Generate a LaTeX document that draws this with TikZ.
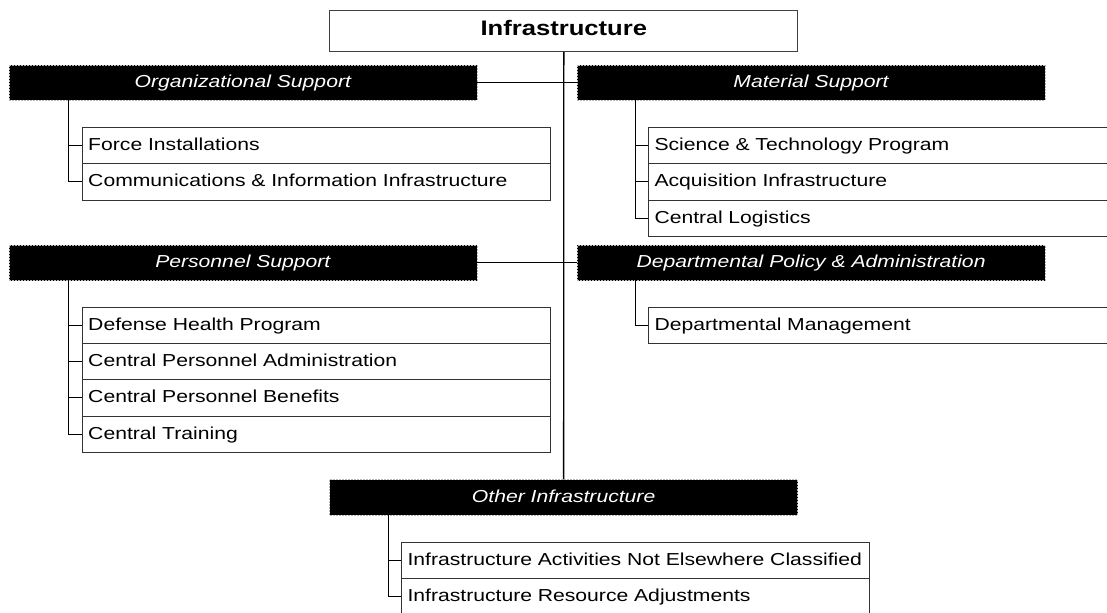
\documentclass[tikz,border=0pt]{standalone}
\usepackage{fontspec}
\setmainfont{Liberation Sans}[FakeStretch=1.22]
\begin{document}
\begin{tikzpicture}[x=0.75pt,y=-0.75pt,
  every node/.style={font=\fontsize{13pt}{15pt}\selectfont},
  topbox/.style={draw=black!75, fill=white, line width=0.8pt, minimum width=351pt, minimum height=30.75pt, inner sep=0pt, text height=0.72em, text depth=0pt, anchor=north west, font=\fontsize{15.75pt}{18pt}\selectfont\bfseries},
  bar/.style={fill=black, draw=gray!55, dash pattern=on 1.5pt off 0.75pt, line width=0.5pt, text=white, font=\fontsize{13pt}{15pt}\selectfont\itshape, minimum width=351pt, minimum height=26.6pt, inner sep=0pt, text height=0.72em, text depth=0pt, anchor=north west},
  item/.style={draw=black!80, fill=white, line width=0.8pt, text width=342pt, inner xsep=4.5pt, inner ysep=0pt, minimum height=27.2pt, text height=0.72em, text depth=0pt, align=left, anchor=north west},
  link/.style={draw=black, line width=0.75pt},
  trunk/.style={draw=black, line width=1pt}]
\useasboundingbox (0,0) rectangle (1107,612);

% top
\node[topbox] (infra) at (329.3,10) {Infrastructure};

% category bars
\node[bar] (org) at (8.5,64.5) {Organizational Support};
\node[bar] (mat) at (576.7,64.5) {Material Support};
\node[bar] (pers) at (8.5,244.7) {Personnel Support};
\node[bar] (dept) at (576.7,244.7) {Departmental Policy \& Administration};
\node[bar] (other) at (329.3,479.3) {Other Infrastructure};

% items
\node[item] (force) at (81.7,127) {Force Installations};
\node[item] (comm) at (81.7,163.3) {Communications \& Information Infrastructure};

\node[item] (sci) at (648,127) {Science \& Technology Program};
\node[item] (acq) at (648,163.3) {Acquisition Infrastructure};
\node[item] (log) at (648,199.6) {Central Logistics};

\node[item] (dhp) at (81.7,306.7) {Defense Health Program};
\node[item] (cpa) at (81.7,343) {Central Personnel Administration};
\node[item] (cpb) at (81.7,379.3) {Central Personnel Benefits};
\node[item] (ctr) at (81.7,415.6) {Central Training};

\node[item] (dm) at (648,306.7) {Departmental Management};

\node[item] (iane) at (401,541.7) {Infrastructure Activities Not Elsewhere Classified};
\node[item] (ira) at (401,578) {Infrastructure Resource Adjustments};

% connectors
\draw[trunk] (infra.south) -- (other.north);
\draw[link] (org.east) -- (mat.west);
\draw[link] (pers.east) -- (dept.west);

\coordinate (orgl) at (68.5,100);
\coordinate (matl) at (635.3,100);
\coordinate (persl) at (68.5,280.3);
\coordinate (deptl) at (635.3,280.3);
\coordinate (othl) at (388.3,514.9);

\draw[link] (orgl) |- (force.west);
\draw[link] (orgl) |- (comm.west);
\draw[link] (matl) |- (sci.west);
\draw[link] (matl) |- (acq.west);
\draw[link] (matl) |- (log.west);
\draw[link] (persl) |- (dhp.west);
\draw[link] (persl) |- (cpa.west);
\draw[link] (persl) |- (cpb.west);
\draw[link] (persl) |- (ctr.west);
\draw[link] (deptl) |- (dm.west);
\draw[link] (othl) |- (iane.west);
\draw[link] (othl) |- (ira.west);
\end{tikzpicture}
\end{document}
